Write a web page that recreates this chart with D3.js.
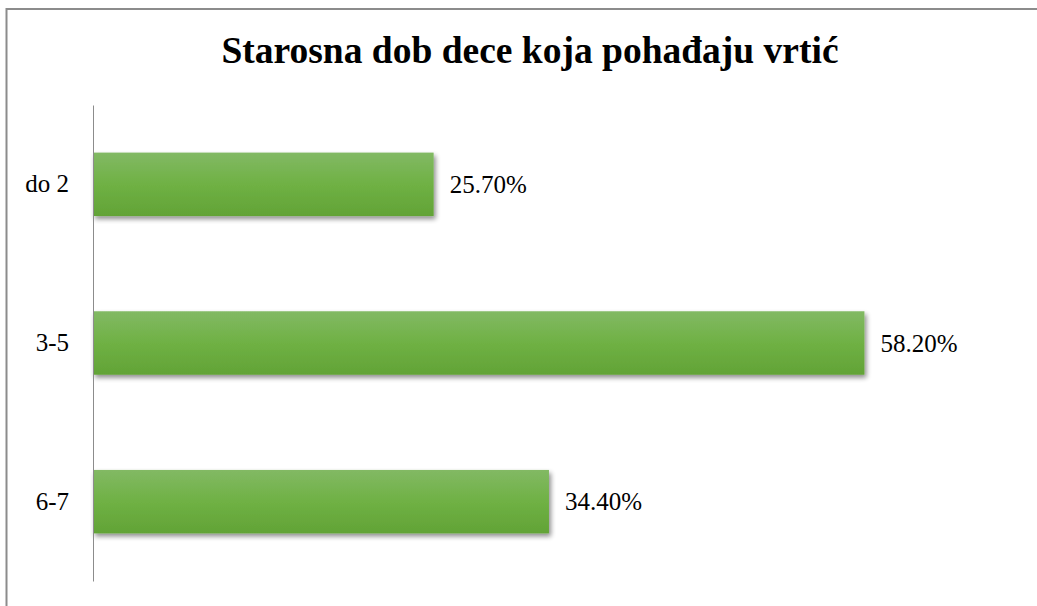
<!DOCTYPE html>
<html>
<head>
<meta charset="utf-8">
<script src="https://cdn.jsdelivr.net/npm/d3@7"></script>
<style>
  body { margin: 0; background: #fff; overflow: hidden; }
  svg { display: block; }
  text { font-family: "Liberation Serif", "Times New Roman", serif; }
</style>
</head>
<body>
<script>
// data
var categories = ["do 2", "3-5", "6-7"];
var values = [25.7, 58.2, 34.4];
var title = "Starosna dob dece koja pohađaju vrtić";

var svgWidth = 1037;
var svgHeight = 606;
var margin = { top: 105, right: 16, bottom: 25, left: 93 };
var width = svgWidth - margin.left - margin.right;
var height = svgHeight - margin.top - margin.bottom;

var svg = d3.select("body")
  .append("svg")
  .attr("width", svgWidth)
  .attr("height", svgHeight);

// gradient + shadow for the bars
var defs = svg.append("defs");
var grad = defs.append("linearGradient")
  .attr("id", "barGrad")
  .attr("x1", 0).attr("y1", 0).attr("x2", 0).attr("y2", 1);
grad.append("stop").attr("offset", "0%").attr("stop-color", "#82b964");
grad.append("stop").attr("offset", "50%").attr("stop-color", "#6fb144");
grad.append("stop").attr("offset", "100%").attr("stop-color", "#62a336");

var shadow = defs.append("filter")
  .attr("id", "shadow")
  .attr("x", "-10%").attr("y", "-20%").attr("width", "130%").attr("height", "160%");
shadow.append("feGaussianBlur").attr("in", "SourceAlpha").attr("stdDeviation", 2.5);
shadow.append("feOffset").attr("dx", 2).attr("dy", 3).attr("result", "blur");
shadow.append("feComponentTransfer").append("feFuncA").attr("type", "linear").attr("slope", 0.45);
var merge = shadow.append("feMerge");
merge.append("feMergeNode");
merge.append("feMergeNode").attr("in", "SourceGraphic");

// outer frame: only the top and left edges are inside the picture
svg.append("path")
  .attr("d", `M6.5,${svgHeight} V9 H${svgWidth}`)
  .attr("fill", "none")
  .attr("stroke", "#8c8c8c")
  .attr("stroke-width", 2);

// title
svg.append("text")
  .attr("x", 530)
  .attr("y", 63)
  .attr("text-anchor", "middle")
  .attr("font-size", "37.5px")
  .attr("font-weight", "bold")
  .text(title);

var chartGroup = svg.append("g")
  .attr("transform", `translate(${margin.left}, ${margin.top})`);

var xScale = d3.scaleLinear()
  .domain([0, 70])
  .range([0, 70 * 13.255]);

var yScale = d3.scaleBand()
  .domain(categories)
  .range([0, height])
  .paddingInner(0.6)
  .paddingOuter(0.3);

// bars
chartGroup.selectAll("rect.bar")
  .data(values)
  .enter()
  .append("rect")
  .attr("class", "bar")
  .attr("x", 0)
  .attr("y", (d, i) => yScale(categories[i]))
  .attr("width", d => xScale(d))
  .attr("height", yScale.bandwidth())
  .attr("fill", "url(#barGrad)")
  .attr("filter", "url(#shadow)");

// value labels
chartGroup.selectAll("text.val")
  .data(values)
  .enter()
  .append("text")
  .attr("class", "val")
  .attr("x", d => xScale(d) + 16)
  .attr("y", (d, i) => yScale(categories[i]) + yScale.bandwidth() / 2)
  .attr("dy", "0.35em")
  .attr("font-size", "25px")
  .attr("fill", "#000")
  .text(d => d.toFixed(2) + "%");

// y axis
var yAxis = d3.axisLeft(yScale).tickSize(0).tickPadding(24);
var yg = chartGroup.append("g").call(yAxis);
yg.select(".domain").attr("stroke", "#8c8c8c");
yg.selectAll("text")
  .attr("font-size", "25px")
  .attr("fill", "#000");
</script>
</body>
</html>
